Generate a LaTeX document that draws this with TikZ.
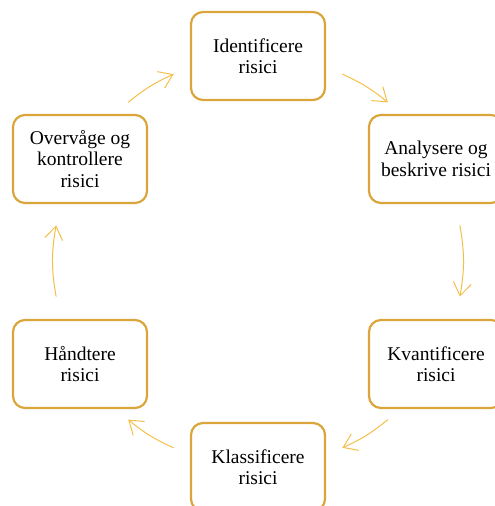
\documentclass[tikz,border=0pt]{standalone}
\usepackage{fontspec}
\setmainfont{Liberation Serif}
\usetikzlibrary{arrows.meta,calc}
\definecolor{boxgold}{HTML}{DAA63C}
\definecolor{arrgold}{HTML}{F3BF4A}
\begin{document}
\begin{tikzpicture}[x=1pt,y=-1pt,
  stepbox/.style={draw=boxgold, line width=2.2pt, rounded corners=12pt, fill=white,
    minimum width=134pt, minimum height=88pt, align=center, font=\fontsize{19.5}{21.5}\selectfont, inner sep=0pt},
  arr/.style={draw=arrgold, line width=1pt, -{Straight Barb[length=13pt,width=18pt,line width=1pt]}}]
\useasboundingbox (0,0) rectangle (495,506);
\clip (0,0) rectangle (495,506);
\coordinate (C) at (258,261);
\node[stepbox] (ident) at (258,56) {Identificere\\risici};
\node[stepbox] (anal) at (436,159) {Analysere og\\beskrive risici};
\node[stepbox] (kvant) at (436,364) {Kvantificere\\risici};
\node[stepbox] (klass) at (258,467) {Klassificere\\risici};
\node[stepbox] (hand) at (80,364) {Håndtere\\risici};
\node[stepbox] (overv) at (80,159) {Overvåge og\\kontrollere\\risici};
% arc end points on circle around C (radius 205, y axis downward so angles mirrored)
\foreach \n/\a in {a1/-65.7,a2/-50.7,b1/-10,b2/10,c1/50.7,c2/65.7,d1/114.3,d2/129.3,e1/170,e2/190,f1/230.7,f2/245.7}
  \coordinate (\n) at ($(C)+(\a:205)$);
\draw[arr] (a1) to[bend left=7.5] (a2);
\draw[arr] (b1) to[bend left=10] (b2);
\draw[arr] (c1) to[bend left=7.5] (c2);
\draw[arr] (d1) to[bend left=7.5] (d2);
\draw[arr] (e1) to[bend left=10] (e2);
\draw[arr] (f1) to[bend left=7.5] (f2);
\end{tikzpicture}
\end{document}
